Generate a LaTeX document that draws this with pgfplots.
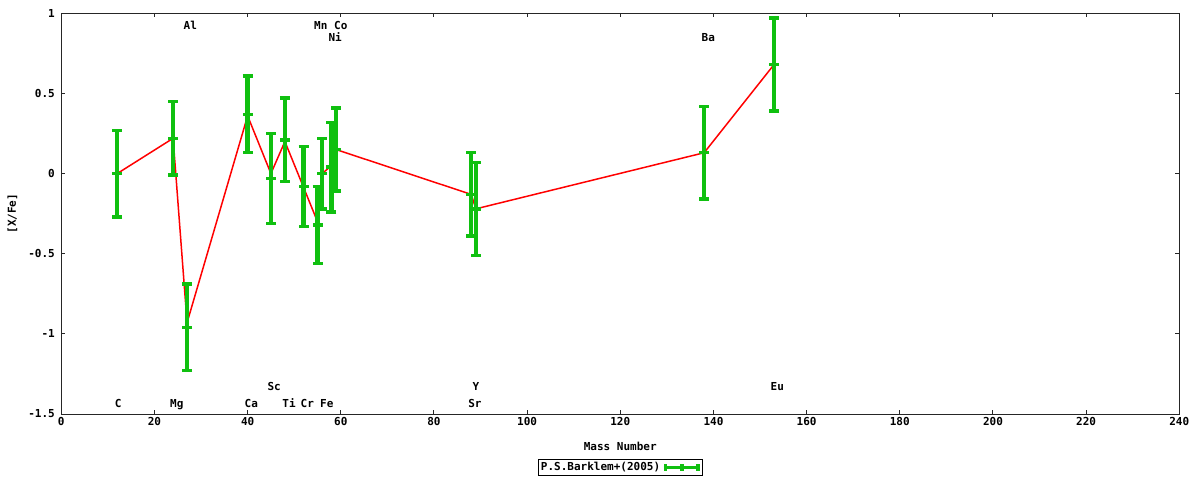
\documentclass[border=0pt]{standalone}
\usepackage{pgfplots}
\pgfplotsset{compat=1.18}
\usepackage{fontspec}
\setmainfont{DejaVu Sans Mono}
\definecolor{gpgreen}{RGB}{16,192,16}
\definecolor{gpred}{RGB}{255,0,0}

% Barklem et al. (2005): mass number, [X/Fe], error
\pgfplotstableread{
x    y      err
12   0.00   0.27
24   0.22   0.23
27  -0.96   0.27
40   0.37   0.24
45  -0.03   0.28
48   0.21   0.26
52  -0.08   0.25
55  -0.32   0.24
56   0.00   0.22
58   0.04   0.28
59   0.15   0.26
88  -0.13   0.26
89  -0.22   0.29
138  0.13   0.29
153  0.68   0.29
}\barklem

% red connecting line
\pgfplotstableread{
x    y
12   0.00
24   0.22
27  -0.93
40   0.36
45   0.00
48   0.20
55  -0.30
56   0.00
58   0.05
59   0.15
88  -0.13
89  -0.22
138  0.13
153  0.68
}\redline

\begin{document}
\begin{tikzpicture}[font=\fontsize{11}{13}\selectfont\bfseries,
    lab/.style={anchor=base, inner sep=0pt, font=\fontsize{11}{13}\selectfont\bfseries}]
\path[use as bounding box] (0,0) rectangle (1200pt,480pt);
\begin{axis}[
    at={(61.3pt,66pt)}, anchor=south west,
    width=1118pt, height=400.7pt, scale only axis,
    xmin=0, xmax=240, ymin=-1.5, ymax=1,
    xtick={0,20,...,240},
    ytick={-1.5,-1,-0.5,0,0.5,1},
    axis line style={black!85, line width=1pt},
    major tick length=4pt,
    tick style={black!85, line width=1pt},
    tick label style={font=\fontsize{11}{13}\selectfont\bfseries},
    yticklabel style={xshift=-3pt},
    /pgf/number format/assume math mode=true,
    xlabel={Mass Number},
    ylabel={[X/Fe]},
    xlabel style={at={(axis description cs:0.5,-0.0816)}, anchor=center},
    ylabel style={at={(axis description cs:-0.0437,0.5)}, anchor=center, rotate=0},
    legend plot pos=right,
    legend style={at={(axis description cs:0.5,-0.1335)}, anchor=center,
        draw=black, line width=0.8pt, inner sep=1pt, outer sep=0pt,
        font=\fontsize{11}{13}\selectfont\bfseries,
        /tikz/every even column/.append style={column sep=0pt}},
]
\addplot[gpred, line width=1.5pt, forget plot] table[x=x, y=y] {\redline};

\addplot[only marks, gpgreen, mark=-, mark size=5pt,
    mark options={line width=3.5pt, solid, gpgreen},
    legend image code/.code={
        \draw[gpgreen, line width=3.5pt] (0pt,0pt) -- (36pt,0pt);
        \draw[gpgreen, line width=3.5pt] (1.7pt,-3.5pt) -- (1.7pt,3.5pt);
        \draw[gpgreen, line width=3.5pt] (18pt,-3.5pt) -- (18pt,3.5pt);
        \draw[gpgreen, line width=3.5pt] (34.3pt,-3.5pt) -- (34.3pt,3.5pt);
    },
    error bars/.cd, y dir=both, y explicit,
    error bar style={line width=4.5pt, gpgreen},
    error mark options={rotate=90, mark size=5pt, line width=3.5pt, gpgreen}]
    table[x=x, y=y, y error=err] {\barklem};
\addlegendentry{P.S.Barklem+(2005)}

% element names
\node[lab] at (axis cs:27.7,0.896) {Al};
\node[lab] at (axis cs:55.7,0.896) {Mn};
\node[lab] at (axis cs:60.0,0.896) {Co};
\node[lab] at (axis cs:58.8,0.821) {Ni};
\node[lab] at (axis cs:138.9,0.821) {Ba};
\node[lab] at (axis cs:45.7,-1.356) {Sc};
\node[lab] at (axis cs:89.0,-1.356) {Y};
\node[lab] at (axis cs:153.7,-1.356) {Eu};
\node[lab] at (axis cs:12.2,-1.458) {C};
\node[lab] at (axis cs:24.8,-1.458) {Mg};
\node[lab] at (axis cs:40.8,-1.458) {Ca};
\node[lab] at (axis cs:48.9,-1.458) {Ti};
\node[lab] at (axis cs:52.8,-1.458) {Cr};
\node[lab] at (axis cs:57.0,-1.458) {Fe};
\node[lab] at (axis cs:88.8,-1.458) {Sr};
\end{axis}
\end{tikzpicture}
\end{document}
